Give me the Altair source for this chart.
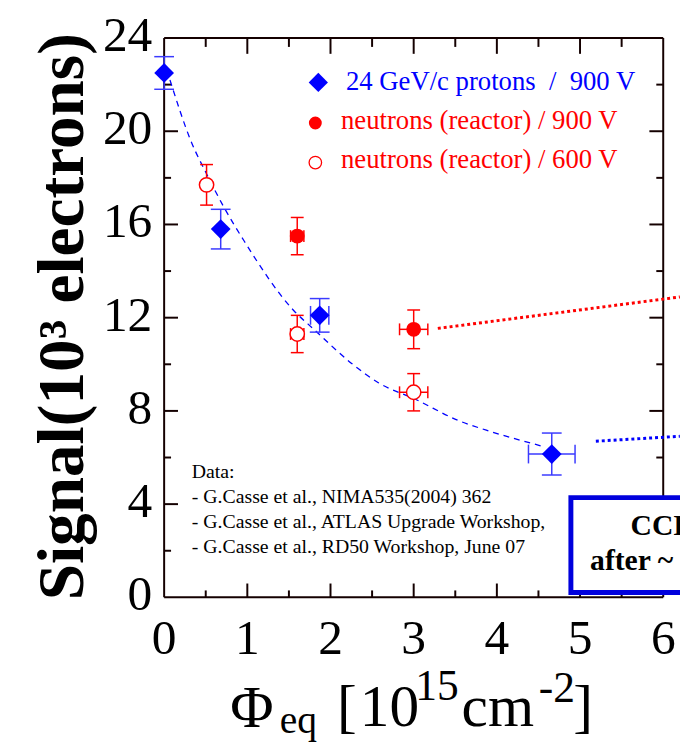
import altair as alt
import pandas as pd

SERIF = "Liberation Serif"
BLUE = "#0000ff"
BLUE_ERR = "#3a3aff"
RED = "#ff0000"
FRAME = "#140000"
NB = "\u00a0"

# ---------------- data ----------------
prot_x    = [0.00, 0.68, 1.87, 4.66]
prot_y    = [22.5, 15.8, 12.1, 6.15]
prot_yerr = [0.70, 0.85, 0.72, 0.90]
prot_xerr = [0.00, 0.00, 0.11, 0.28]

n900_x    = [1.60, 3.00]
n900_y    = [15.5, 11.5]
n900_yerr = [0.80, 0.83]
n900_xerr = [0.08, 0.17]

n600_x    = [0.51, 1.60, 3.00]
n600_y    = [17.7, 11.3, 8.8]
n600_yerr = [0.87, 0.80, 0.80]
n600_xerr = [0.00, 0.08, 0.17]

fit_x = [0.07, 0.32, 0.52, 0.725, 0.96, 1.56, 1.80, 2.25, 2.58, 3.02, 3.53, 3.94, 4.53]
fit_y = [22.2, 19.6, 18.1, 16.7, 15.3, 12.3, 11.5, 10.05, 9.2, 8.5, 7.6, 7.1, 6.5]

red_trend_x = [3.29, 6.20]
red_trend_y = [11.54, 12.89]
blue_trend_x = [5.19, 6.20]
blue_trend_y = [6.70, 6.91]

x_labels = [0, 1, 2, 3, 4, 5, 6]
y_labels = [0, 4, 8, 12, 16, 20, 24]
x_major = [1, 2, 3, 4, 5]
x_minor = [0.5, 1.5, 2.5, 3.5, 4.5, 5.5]
y_major = [4, 8, 12, 16, 20]
y_minor = [2, 6, 10, 14, 18, 22]

legend_labels = ["24 GeV/c protons" + NB + NB + "/" + NB + NB + "900 V",
                 "neutrons (reactor) / 900 V",
                 "neutrons (reactor) / 600 V"]
notes = ["Data:",
         "- G.Casse et al., NIMA535(2004) 362",
         "- G.Casse et al., ATLAS Upgrade Workshop,",
         "- G.Casse et al., RD50 Workshop, June 07"]
box_text = ["CCE", "after ~"]

# ---------------- layout ----------------
X0, Y0 = 166, 34          # page position of plot origin (top-left)
W, H = 522, 566
X_MAX = 6.2017
xs = alt.Scale(domain=[0, X_MAX], nice=False, zero=False)
ys = alt.Scale(domain=[0, 24], nice=False, zero=False)


def X(f, **kw):
    return alt.X(f, type="quantitative", scale=xs, axis=None, **kw)


def Y(f, **kw):
    return alt.Y(f, type="quantitative", scale=ys, axis=None, **kw)


def series_df(x, y, ye, xe):
    return pd.DataFrame({
        "x": x, "y": y,
        "ylo": [a - b for a, b in zip(y, ye)],
        "yhi": [a + b for a, b in zip(y, ye)],
        "xlo": [a - b for a, b in zip(x, xe)],
        "xhi": [a + b for a, b in zip(x, xe)],
        "xerr": xe,
    })


def errbars(df, color, cap_w, cap_h):
    base = alt.Chart(df)
    lay = [
        base.mark_rule(color=color, strokeWidth=1.5).encode(x=X("x"), y=Y("ylo"), y2="yhi"),
        base.mark_rule(color=color, strokeWidth=1.5, xOffset=-cap_w / 2, x2Offset=cap_w / 2)
            .encode(x=X("x"), x2="x", y=Y("ylo")),
        base.mark_rule(color=color, strokeWidth=1.5, xOffset=-cap_w / 2, x2Offset=cap_w / 2)
            .encode(x=X("x"), x2="x", y=Y("yhi")),
    ]
    hb = base.transform_filter("datum.xerr > 0")
    lay += [
        hb.mark_rule(color=color, strokeWidth=1.5).encode(x=X("xlo"), x2="xhi", y=Y("y")),
        hb.mark_rule(color=color, strokeWidth=1.5, yOffset=-cap_h / 2, y2Offset=cap_h / 2)
            .encode(x=X("xlo"), y=Y("y"), y2="y"),
        hb.mark_rule(color=color, strokeWidth=1.5, yOffset=-cap_h / 2, y2Offset=cap_h / 2)
            .encode(x=X("xhi"), y=Y("y"), y2="y"),
    ]
    return lay


def text(txt, px, py, size, color="black", bold=False, align="left", angle=0):
    return alt.Chart(pd.DataFrame({"t": [txt]})).mark_text(
        align=align, baseline="alphabetic", font=SERIF, fontSize=size,
        fontWeight="bold" if bold else "normal", color=color, angle=angle
    ).encode(x=alt.value(px - X0), y=alt.value(py - Y0), text="t:N")


prot = series_df(prot_x, prot_y, prot_yerr, prot_xerr)
n900 = series_df(n900_x, n900_y, n900_yerr, n900_xerr)
n600 = series_df(n600_x, n600_y, n600_yerr, n600_xerr)

layers = []

# frame
frame = pd.DataFrame({"x": [0, 0, 0, 6], "x2": [6, 6, 0, 6],
                      "y": [0, 24, 0, 0], "y2": [0, 24, 24, 24]})
layers.append(alt.Chart(frame).mark_rule(color=FRAME, strokeWidth=2)
              .encode(x=X("x"), x2="x2", y=Y("y"), y2="y2"))


# inner ticks
def xticks(vals, ypos, off):
    return alt.Chart(pd.DataFrame({"v": vals})).mark_rule(color=FRAME, strokeWidth=2, y2Offset=off) \
        .encode(x=X("v"), y=alt.Y(datum=ypos, scale=ys, axis=None), y2=alt.datum(ypos))


def yticks(vals, xpos, off):
    return alt.Chart(pd.DataFrame({"v": vals})).mark_rule(color=FRAME, strokeWidth=2, x2Offset=off) \
        .encode(y=Y("v"), x=alt.X(datum=xpos, scale=xs, axis=None), x2=alt.datum(xpos))


layers += [xticks(x_major, 0, -14), xticks(x_minor, 0, -7),
           xticks(x_major, 24, 16), xticks(x_minor, 24, 9),
           yticks(y_major, 0, 14), yticks(y_minor, 0, 7),
           yticks(y_major, 6, -14), yticks(y_minor, 6, -7)]

# tick labels (positioned through the scales)
layers.append(alt.Chart(pd.DataFrame({"v": x_labels})).mark_text(
    font=SERIF, fontSize=50, color="black", align="center", baseline="alphabetic")
    .encode(x=X("v"), y=alt.value(657 - Y0), text=alt.Text("v:Q", format="d")))
layers.append(alt.Chart(pd.DataFrame({"v": y_labels})).mark_text(
    font=SERIF, fontSize=50, color="black", align="right", baseline="alphabetic", dy=13)
    .encode(y=Y("v"), x=alt.value(-12), text=alt.Text("v:Q", format="d")))

# fit & trend lines
layers.append(alt.Chart(pd.DataFrame({"x": fit_x, "y": fit_y}))
              .mark_line(color=BLUE, strokeWidth=1.3, strokeDash=[6, 5], interpolate="monotone")
              .encode(x=X("x"), y=Y("y")))
layers.append(alt.Chart(pd.DataFrame({"x": red_trend_x, "y": red_trend_y}))
              .mark_line(color=RED, strokeWidth=3, strokeDash=[3, 3], clip=True)
              .encode(x=X("x"), y=Y("y")))
layers.append(alt.Chart(pd.DataFrame({"x": blue_trend_x, "y": blue_trend_y}))
              .mark_line(color=BLUE, strokeWidth=3, strokeDash=[3, 3], clip=True)
              .encode(x=X("x"), y=Y("y")))

# error bars
layers += errbars(prot, BLUE_ERR, 20, 19)
layers += errbars(n900, RED, 13, 12)
layers += errbars(n600, RED, 13, 12)

# points
layers.append(alt.Chart(prot).mark_point(shape="diamond", filled=True, size=400, color=BLUE, opacity=1)
              .encode(x=X("x"), y=Y("y")))
layers.append(alt.Chart(n900).mark_point(shape="circle", filled=True, size=225, color=RED, opacity=1)
              .encode(x=X("x"), y=Y("y")))
layers.append(alt.Chart(n600).mark_point(shape="circle", filled=True, fill="white", stroke=RED,
                                         strokeWidth=1.5, size=210, opacity=1)
              .encode(x=X("x"), y=Y("y")))

# legend
layers.append(alt.Chart(pd.DataFrame({"k": [0]})).mark_point(shape="diamond", filled=True, size=380,
                                                             color=BLUE, opacity=1)
              .encode(x=alt.value(322 - X0), y=alt.value(79 - Y0)))
layers.append(alt.Chart(pd.DataFrame({"k": [0]})).mark_point(shape="circle", filled=True, size=170,
                                                             color=RED, opacity=1)
              .encode(x=alt.value(319 - X0), y=alt.value(120 - Y0)))
layers.append(alt.Chart(pd.DataFrame({"k": [0]})).mark_point(shape="circle", filled=True, fill="white",
                                                             stroke=RED, strokeWidth=1.3, size=160, opacity=1)
              .encode(x=alt.value(319 - X0), y=alt.value(160 - Y0)))
layers.append(text(legend_labels[0], 350, 87, 27, color=BLUE))
layers.append(text(legend_labels[1], 345, 126, 27, color=RED))
layers.append(text(legend_labels[2], 345, 166, 27, color=RED))

# notes
for i, line in enumerate(notes):
    layers.append(text(line, 194, 479 + i * 25.5, 20))

# CCE box (cut off at right edge, as in the reference)
layers.append(alt.Chart(pd.DataFrame({"x": [4.89], "x2": [7.5], "y": [0.21], "y2": [4.28]}))
              .mark_rect(fill="white", stroke="#0000dd", strokeWidth=5, clip=True)
              .encode(x=X("x"), x2="x2", y=Y("y"), y2="y2"))
layers.append(text(box_text[0], 638, 537, 30, bold=True))
layers.append(text(box_text[1], 597, 572, 30, bold=True))

# axis titles
layers.append(text("Signal(10\u00b3 electrons)", 84, 316, 66, bold=True, align="center", angle=270))
layers.append(text("\u03a6", 233, 731, 60))
layers.append(text("eq", 283, 737, 40))
layers.append(text("[", 341, 730, 60))
layers.append(text("10", 364, 730, 60))
layers.append(text("15", 420, 704, 44))
layers.append(text("cm", 467, 730, 60))
layers.append(text("-2", 545, 706, 44))
layers.append(text("]", 580, 730, 60))

chart = alt.layer(*layers).properties(
    width=W, height=H,
    autosize=alt.AutoSizeParams(type="none"),
    padding={"left": X0 - 8, "top": Y0 - 8, "right": 0, "bottom": 142},
    background="white",
).configure_view(stroke=None)

chart.save("out.html", embed_options={"renderer": "svg", "actions": False})
